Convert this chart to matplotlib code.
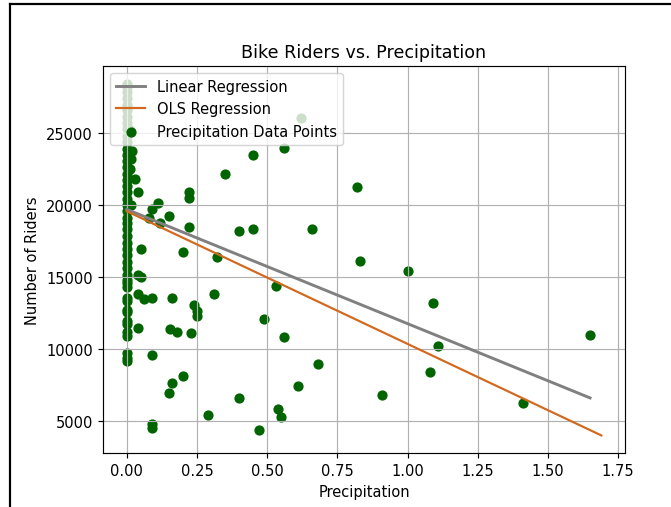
from matplotlib import pyplot as plt
from matplotlib.lines import Line2D
import numpy as np

# days with no rain
dry_riders = [9150, 9400, 9700, 10900, 11150, 11750, 11950, 12550, 12700, 13300,
              13550, 14300, 14550, 14750, 15150, 15600, 16050, 16500, 16950, 17350,
              17800, 18300, 18700, 19100, 19550, 20000, 20400, 20850, 21300, 21700,
              22150, 22600, 23050, 23450, 23900, 24350, 24800, 25250, 25650, 26100,
              26550, 26950, 27400, 27800, 28150, 28400]

# days with some rain
wet_precip = [0.01, 0.02, 0.015, 0.01, 0.03, 0.04, 0.015,
              0.11, 0.09, 0.08, 0.12, 0.15,
              0.22, 0.22, 0.22, 0.35, 0.45, 0.56, 0.62,
              0.40, 0.45, 0.66, 0.82, 0.83, 1.00, 1.09,
              1.11, 1.08, 0.91, 1.41, 1.65,
              0.05, 0.20, 0.32, 0.04, 0.05, 0.53, 0.04,
              0.06, 0.09, 0.16, 0.31, 0.24, 0.25, 0.25,
              0.49, 0.04, 0.155, 0.18, 0.23, 0.56, 0.09,
              0.68, 0.20, 0.16, 0.61, 0.15, 0.40, 0.29, 0.54,
              0.55, 0.09, 0.09, 0.47]
wet_riders = [25200, 23750, 23200, 22500, 21800, 20900, 19950,
              20150, 19700, 19050, 18700, 19200,
              20900, 20450, 18450, 22100, 23450, 23950, 26050,
              18200, 18350, 18300, 21250, 16100, 15400, 13200,
              10200, 8400, 6800, 6270, 10950,
              16900, 16750, 16400, 15150, 15000, 14350, 13800,
              13450, 13500, 13500, 13800, 13050, 12650, 12250,
              12050, 11450, 11350, 11200, 11100, 10800, 9600,
              8950, 8100, 7650, 7430, 6950, 6600, 5450, 5850,
              5300, 4800, 4500, 4400]

# fitted lines (end points)
linear_x = [0.0, 1.65]
linear_y = [19680, 6600]
ols_x = [0.0, 1.69]
ols_y = [19550, 4000]

precip = np.array([0.0] * len(dry_riders) + wet_precip)
riders = np.array(dry_riders + wet_riders)

dpi = 105
fig = plt.figure(figsize=(671 / dpi, 508 / dpi), dpi=dpi)
fig.subplots_adjust(left=0.1535, right=0.9315, top=0.868, bottom=0.1063)
ax = fig.add_subplot(111)

ax.plot(linear_x, linear_y, color='gray', linewidth=2, label='Linear Regression')
ax.plot(ols_x, ols_y, color='chocolate', linewidth=1.5, label='OLS Regression')
ax.scatter(precip, riders, color='darkgreen', label='Precipitation Data Points')

ax.set_title('Bike Riders vs. Precipitation')
ax.set_xlabel('Precipitation')
ax.set_ylabel('Number of Riders')
ax.set_xticks([0.0, 0.25, 0.5, 0.75, 1.0, 1.25, 1.5, 1.75])
ax.grid(True)
ax.legend(loc='upper left')

# border of the screenshot
fig.add_artist(Line2D([9.5 / 671, 1.0], [1 - 4.5 / 508, 1 - 4.5 / 508],
                      transform=fig.transFigure, color='black', linewidth=1.5))
fig.add_artist(Line2D([9.5 / 671, 9.5 / 671], [0.0, 1 - 4.5 / 508],
                      transform=fig.transFigure, color='black', linewidth=1.5))

fig.savefig('out.png', dpi=dpi)
